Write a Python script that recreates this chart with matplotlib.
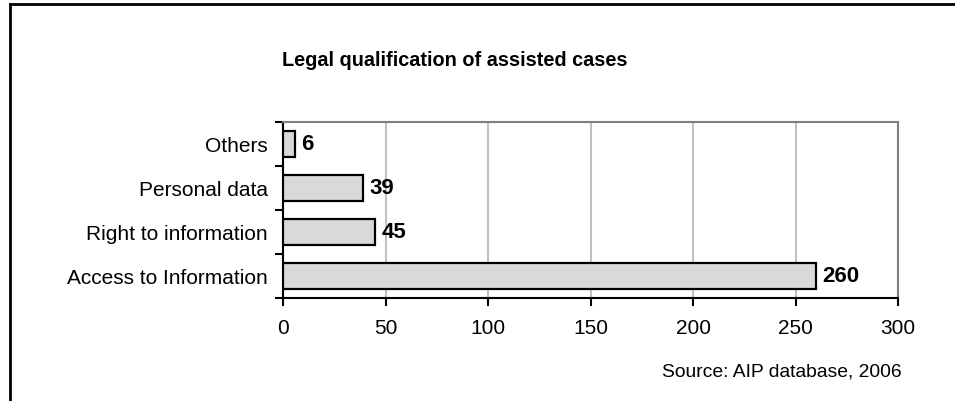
import matplotlib.pyplot as plt
from matplotlib.lines import Line2D

plt.rcParams['font.family'] = ['Liberation Sans', 'DejaVu Sans']

# Cases by legal qualification (bottom to top)
categories = ["Access to Information", "Right to information", "Personal data", "Others"]
counts = [260, 45, 39, 6]
x_ticks = [0, 50, 100, 150, 200, 250, 300]

fig = plt.figure(figsize=(9.55, 4.01), dpi=100)
ax = fig.add_axes([283 / 955, 1 - 298 / 401, 615 / 955, 176 / 401])

ypos = range(len(categories))
ax.barh(ypos, counts, height=0.6, color='#d9d9d9', edgecolor='black',
        linewidth=1.6, zorder=3)

for y, v in zip(ypos, counts):
    ax.text(v + 3, y, str(v), va='center', ha='left', fontsize=16,
            fontweight='bold', zorder=4)

ax.set_xlim(0, 300)
ax.set_ylim(-0.5, len(categories) - 0.5)
ax.set_xticks(x_ticks)
ax.set_xticklabels([str(t) for t in x_ticks], fontsize=15)
ax.xaxis.grid(True, color='#c0c0c0', linewidth=1.5, zorder=0)

# category labels centred on bars, tick marks between categories
ax.set_yticks(list(ypos))
ax.set_yticklabels(categories, fontsize=15)
ax.set_yticks([i - 0.5 for i in range(len(categories) + 1)], minor=True)
ax.tick_params(axis='y', which='major', length=0, pad=11)
ax.tick_params(axis='y', which='minor', length=6, width=1.5, direction='out')
ax.tick_params(axis='x', length=6, width=1.5, direction='out', pad=9)

for side in ('left', 'bottom'):
    ax.spines[side].set_color('black')
    ax.spines[side].set_linewidth(1.5)
for side in ('top', 'right'):
    ax.spines[side].set_color('#808080')
    ax.spines[side].set_linewidth(1.5)

fig.text(455 / 955, 1 - 61 / 401, "Legal qualification of assisted cases",
         ha='center', va='center', fontsize=14.3, fontweight='bold')
fig.text(902 / 955, 1 - 372 / 401, "Source: AIP database, 2006",
         ha='right', va='center', fontsize=13.9)

# outer frame, top and left edges
fig.add_artist(Line2D([10 / 955, 1.0], [1 - 4 / 401, 1 - 4 / 401],
                      color='black', linewidth=2, transform=fig.transFigure))
fig.add_artist(Line2D([10 / 955, 10 / 955], [0.0, 1 - 4 / 401],
                      color='black', linewidth=2, transform=fig.transFigure))

fig.savefig('out.png', dpi=100)
